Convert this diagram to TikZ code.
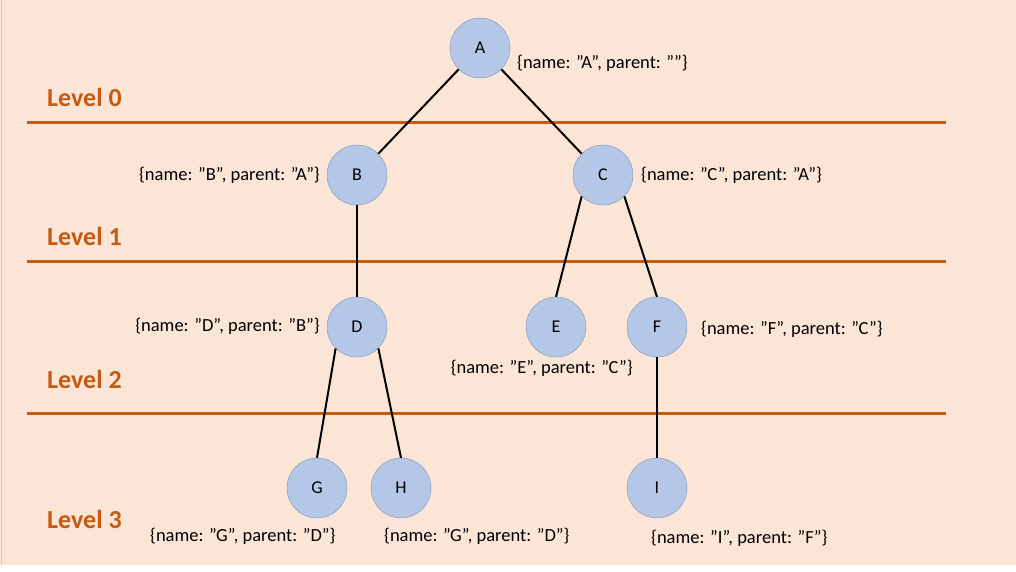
\documentclass[tikz,border=0pt]{standalone}
\usepackage{fontspec}
\setmainfont{Carlito}
\definecolor{peach}{HTML}{FBE5D6}
\definecolor{rust}{HTML}{C55A11}
\definecolor{nodeblue}{HTML}{B4C7E7}
\definecolor{nodeedge}{HTML}{7F93B2}
\begin{document}
\begin{tikzpicture}[x=1pt,y=-1pt,
  vertex/.style={circle,draw=nodeedge,fill=nodeblue,minimum size=60pt,inner sep=0pt,font=\fontsize{18}{20}\selectfont},
  info/.style={inner sep=0pt,font=\fontsize{18.5}{22}\selectfont},
  levelname/.style={inner sep=0pt,anchor=base west,text=rust,font=\fontsize{26}{30}\selectfont\bfseries},
  levelrule/.style={draw=rust,line width=3pt},
  edge/.style={line width=2pt}]
\useasboundingbox (0,0) rectangle (1016,571);
\fill[peach] (0,0) rectangle (1016,571);
\fill[white] (0,565) rectangle (1016,571);
\draw[black!20] (1.5,0) -- (1.5,565);
% levels
\draw[levelrule] (27,122) -- (946,122);
\draw[levelrule] (27,261) -- (946,261);
\draw[levelrule] (27,413) -- (946,413);
\node[levelname] (lv0) at (47,106) {Level 0};
\node[levelname] (lv1) at (47,245) {Level 1};
\node[levelname] (lv2) at (47,388) {Level 2};
\node[levelname] (lv3) at (47,528) {Level 3};
% tree
\node[vertex] (A) at (480,48) {A};
\node[vertex] (B) at (357,175) {B};
\node[vertex] (C) at (603,175) {C};
\node[vertex] (D) at (357,327) {D};
\node[vertex] (E) at (556,327) {E};
\node[vertex] (F) at (657,327) {F};
\node[vertex] (G) at (317,488) {G};
\node[vertex] (H) at (401,488) {H};
\node[vertex] (I) at (657,488) {I};
\draw[edge] (A.south west) -- (B.north east);
\draw[edge] (A.south east) -- (C.north west);
\draw[edge] (B) -- (D);
\draw[edge] (C.south west) -- (E.north);
\draw[edge] (C.south east) -- (F.north);
\draw[edge] (D.south west) -- (G.north);
\draw[edge] (D.south east) -- (H.north);
\draw[edge] (F) -- (I);
% records
\node[info,anchor=west] (infoA) at (517,63) {\{name: ”A”, parent: ””\}};
\node[info,anchor=east] (infoB) at (320,175) {\{name: ”B”, parent: ”A”\}};
\node[info,anchor=west] (infoC) at (641,175) {\{name: ”C”, parent: ”A”\}};
\node[info,anchor=east] (infoD) at (320,326) {\{name: ”D”, parent: ”B”\}};
\node[info,anchor=east] (infoE) at (633,368) {\{name: ”E”, parent: ”C”\}};
\node[info,anchor=west] (infoF) at (701,329) {\{name: ”F”, parent: ”C”\}};
\node[info,anchor=west] (infoG) at (150,536) {\{name: ”G”, parent: ”D”\}};
\node[info,anchor=west] (infoH) at (384,536) {\{name: ”G”, parent: ”D”\}};
\node[info,anchor=west] (infoI) at (651,538) {\{name: ”I”, parent: ”F”\}};
\end{tikzpicture}
\end{document}
